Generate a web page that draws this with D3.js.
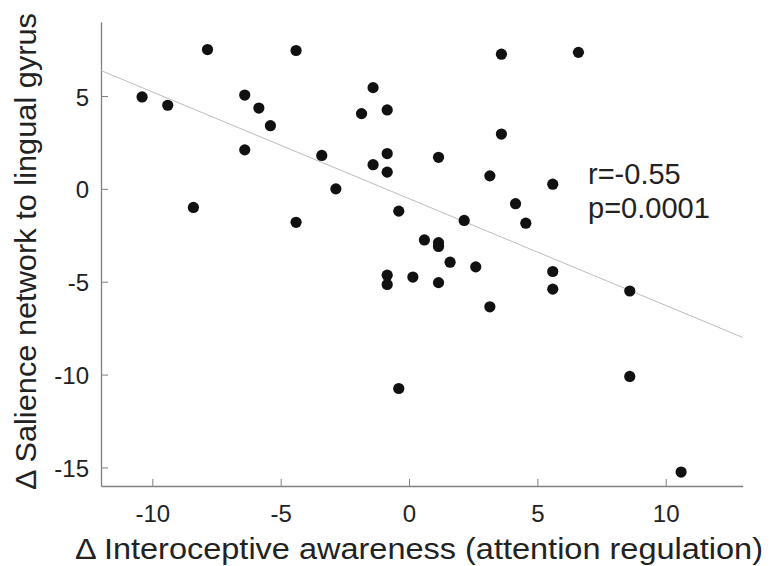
<!DOCTYPE html>
<html>
<head>
<meta charset="utf-8">
<script src="https://cdn.jsdelivr.net/npm/d3@7"></script>
<style>
  body { margin: 0; background: #fff; }
  svg text { font-family: "Liberation Sans", Arial, Helvetica, sans-serif; fill: #222; }
</style>
</head>
<body>
<div id="chart"></div>
<script>
// change in interoceptive awareness (attention regulation)
const awareness = [
    -10.4, -9.4, -7.85, -8.4, -6.4, -6.4, -5.85, -5.4, -4.4, -4.4,
    -3.4, -2.85, -1.85, -1.4, -1.4, -0.85, -0.85, -0.85, -0.4, -0.85,
    -0.85, -0.4, 0.15, 0.6, 1.15, 1.15, 1.15, 1.15, 1.6, 2.15,
    2.6, 3.15, 3.15, 3.6, 3.6, 4.15, 4.55, 5.6, 5.6, 5.6,
    6.6, 8.6, 8.6, 10.6
];
// change in salience network to lingual gyrus connectivity
const salience = [
    4.95, 4.5, 7.5, -1.0, 5.05, 2.1, 4.35, 3.4, 7.45, -1.8,
    1.8, 0.0, 4.05, 5.45, 1.3, 4.25, 1.9, 0.9, -1.2, -4.65,
    -5.15, -10.75, -4.75, -2.75, 1.7, -2.9, -3.1, -5.05, -3.95, -1.7,
    -4.2, 0.7, -6.35, 7.25, 2.95, -0.8, -1.85, 0.25, -4.45, -5.4,
    7.35, -5.5, -10.1, -15.25
];
// least squares line, end points as drawn
const fitX = [-12, 13];
const fitY = [6.37, -8.0];

const xTicks = [-10, -5, 0, 5, 10];
const yTicks = [-15, -10, -5, 0, 5];
const statLines = ["r=-0.55", "p=0.0001"];

const W = 770, H = 566;
const plotLeft = 101, plotRight = 742.7, plotTop = 21.7, plotBottom = 486;

let svg = d3.select("#chart").append("svg")
    .attr("width", W)
    .attr("height", H);

let x = d3.scaleLinear().domain([-12, 13]).range([plotLeft, plotRight]);
let y = d3.scaleLinear().domain([-16, 9]).range([plotBottom, plotTop]);

// axes (MATLAB style, ticks pointing in)
let xAxis = svg.append("g")
    .attr("transform", "translate(0," + plotBottom + ")")
    .call(d3.axisBottom(x).tickValues(xTicks).tickSizeInner(-7).tickSizeOuter(0).tickPadding(0));
let yAxis = svg.append("g")
    .attr("transform", "translate(" + plotLeft + ",0)")
    .call(d3.axisLeft(y).tickValues(yTicks).tickSizeInner(-7).tickSizeOuter(0).tickPadding(0));

[xAxis, yAxis].forEach(a => {
    a.select(".domain").attr("stroke", "#808080").attr("stroke-width", 1.3);
    a.selectAll(".tick line").attr("stroke", "#808080").attr("stroke-width", 1);
    a.selectAll(".tick text").remove();
});

xAxis.selectAll(".tick").append("text")
    .attr("y", 36)
    .attr("text-anchor", "middle")
    .style("font-size", "24px")
    .text(d => d);

yAxis.selectAll(".tick").append("text")
    .attr("x", -12)
    .attr("dy", "0.38em")
    .attr("text-anchor", "end")
    .style("font-size", "24px")
    .text(d => d);

// fit line
svg.append("line")
    .attr("x1", x(fitX[0])).attr("y1", y(fitY[0]))
    .attr("x2", x(fitX[1])).attr("y2", y(fitY[1]))
    .attr("stroke", "#bdbdbd")
    .attr("stroke-width", 1);

// points
svg.append("g").selectAll("circle")
    .data(d3.zip(awareness, salience))
    .enter().append("circle")
    .attr("cx", d => x(d[0]))
    .attr("cy", d => y(d[1]))
    .attr("r", 5.6)
    .attr("fill", "#111");

// r / p annotation
svg.append("g").selectAll("text")
    .data(statLines)
    .enter().append("text")
    .attr("x", 588)
    .attr("y", (d, i) => 183.5 + i * 34)
    .style("font-size", "29px")
    .text(d => d);

// axis titles
svg.append("text")
    .attr("x", 75)
    .attr("y", 559)
    .attr("textLength", 688)
    .attr("lengthAdjust", "spacingAndGlyphs")
    .style("font-size", "30px")
    .text("\u0394 Interoceptive awareness (attention regulation)");

svg.append("text")
    .attr("transform", "translate(36,490) rotate(-90)")
    .attr("textLength", 477)
    .attr("lengthAdjust", "spacingAndGlyphs")
    .style("font-size", "30px")
    .text("\u0394 Salience network to lingual gyrus");
</script>
</body>
</html>
